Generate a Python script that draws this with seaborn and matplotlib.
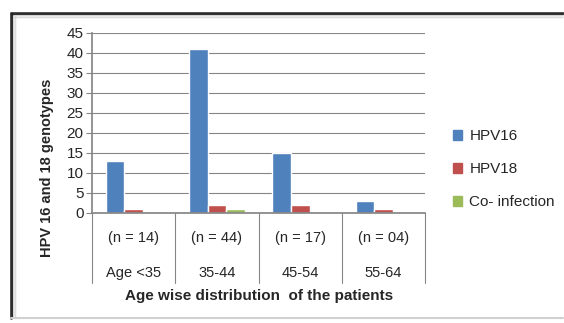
import pandas as pd
import numpy as np
import matplotlib.pyplot as plt
import seaborn as sns
from matplotlib.lines import Line2D
import matplotlib.transforms as mtransforms

# ================= 数据 =================
AGE_GROUPS = ['Age <35', '35-44', '45-54', '55-64']
N_LABELS = ['(n = 14)', '(n = 44)', '(n = 17)', '(n = 04)']
SERIES = ['HPV16', 'HPV18', 'Co- infection']
HPV16 = [13, 41, 15, 3]
HPV18 = [1, 2, 2, 1]
COINF = [0, 1, 0, 0]
COLORS = ['#4F81BD', '#C0504D', '#9BBB59']

df = pd.DataFrame({'Age': AGE_GROUPS, 'HPV16': HPV16, 'HPV18': HPV18, 'Co- infection': COINF})
long_df = df.melt(id_vars='Age', var_name='Type', value_name='Count')

# ================= 绘图 =================
sns.set_theme(style='white')
plt.rcParams['font.family'] = ['Liberation Sans', 'DejaVu Sans']

fig = plt.figure(figsize=(5.64, 3.23), dpi=100)
ax = fig.add_axes([0.163, 0.341, 0.591, 0.557])

sns.barplot(data=long_df, x='Age', y='Count', hue='Type', hue_order=SERIES,
            palette=COLORS, width=0.67, saturation=1, ax=ax, legend=False)

ax.set_ylim(0, 45)
ax.set_xlim(-0.5, len(AGE_GROUPS) - 0.5)
ax.set_yticks(range(0, 46, 5))
ax.tick_params(axis='y', labelsize=11, length=4, width=0.8, color='#868686', pad=2, left=True)
ax.yaxis.grid(True, color='#868686', linewidth=0.8)
ax.set_axisbelow(True)
for side in ['top', 'right']:
    ax.spines[side].set_visible(False)
ax.spines['left'].set_color('#868686')
ax.spines['bottom'].set_color('#868686')

# 两层 x 轴标签
ax.set_xticks(range(len(AGE_GROUPS)))
ax.set_xticklabels([f'{n}\n\n{a}' for n, a in zip(N_LABELS, AGE_GROUPS)],
                   fontsize=10.5, linespacing=1.3)
ax.tick_params(axis='x', length=0, pad=13)
trans = mtransforms.blended_transform_factory(ax.transData, ax.transAxes)
for xb in np.arange(-0.5, len(AGE_GROUPS), 1.0):
    ax.add_line(Line2D([xb, xb], [0, -0.39], transform=trans, color='#868686',
                       linewidth=0.8, clip_on=False))

ax.set_xlabel('Age wise distribution  of the patients', fontsize=11, fontweight='bold', labelpad=7)
ax.set_ylabel('HPV 16 and 18 genotypes', fontsize=10.5, fontweight='bold', labelpad=8)
ax.yaxis.set_label_coords(-0.115, 0.25)

# 图例
handles = [plt.Rectangle((0, 0), 1, 1, color=c) for c in COLORS]
fig.legend(handles, SERIES, loc='center left', bbox_to_anchor=(0.778, 0.476),
           frameon=False, fontsize=11, handlelength=0.65, handleheight=0.65,
           handletextpad=0.45, labelspacing=1.25)

# 外框 (带阴影)
fig.add_artist(Line2D([0.0195, 0.998], [0.960, 0.960], transform=fig.transFigure,
                      color='#404040', linewidth=2.0))
fig.add_artist(Line2D([0.0195, 0.0195], [0.960, 0.015], transform=fig.transFigure,
                      color='#404040', linewidth=2.0))
for i, a in enumerate([0.35, 0.2, 0.1, 0.05]):
    off = (i + 1) * 1.2
    fig.add_artist(Line2D([0.0195 + off / 564, 0.998], [0.960 - off / 323] * 2,
                          transform=fig.transFigure, color='black', alpha=a, linewidth=1.2))
    fig.add_artist(Line2D([0.0195 + off / 564] * 2, [0.960 - off / 323, 0.015],
                          transform=fig.transFigure, color='black', alpha=a, linewidth=1.2))
fig.add_artist(Line2D([0.0195, 0.998], [0.015, 0.015], transform=fig.transFigure,
                      color='#d0d0d0', linewidth=1.5))

fig.savefig('out.png', dpi=100)
